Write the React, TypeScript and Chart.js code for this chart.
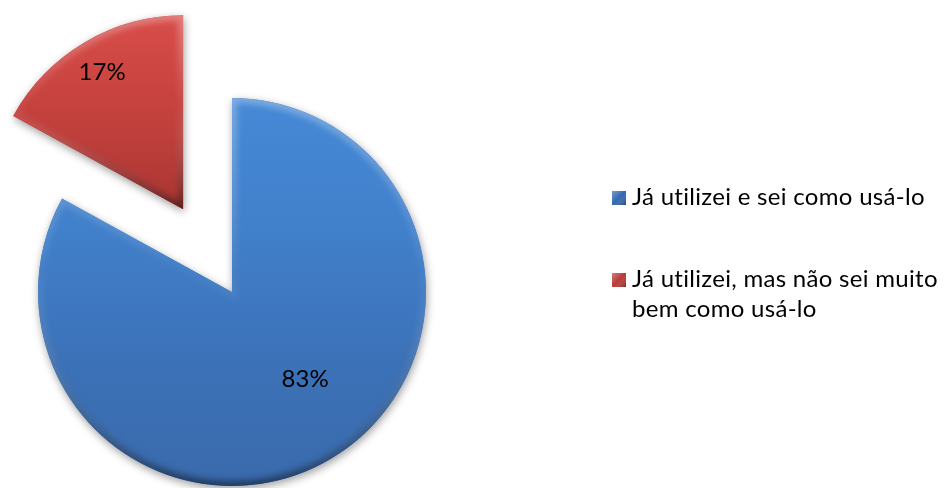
import React, { useEffect, useRef } from 'react';
import { Chart, ArcElement, PieController } from 'chart.js';

Chart.register(ArcElement, PieController);

// ---- data ----
const categories = ['Já utilizei e sei como usá-lo', 'Já utilizei, mas não sei muito bem como usá-lo'];
const legendLines = [['Já utilizei e sei como usá-lo'], ['Já utilizei, mas não sei muito', 'bem como usá-lo']];
const percentages = [83, 17];
const percentLabels = ['83%', '17%'];
const sliceColors = ['#3F7BC6', '#C94440'];

const FONT = '"Lato", "Open Sans", sans-serif';

function sliceBounds(x: number, y: number, r: number, a0: number, a1: number) {
  let minY = y, maxY = y;
  const steps = 90;
  for (let k = 0; k <= steps; k++) {
    const a = a0 + ((a1 - a0) * k) / steps;
    const py = y + Math.sin(a) * r;
    if (py < minY) minY = py;
    if (py > maxY) maxY = py;
  }
  return { minY, maxY };
}

const excelPiePlugin = {
  id: 'excelPie',
  beforeDatasetDraw(chart: any, args: any, opts: any) {
    const ctx: CanvasRenderingContext2D = chart.ctx;
    const meta = chart.getDatasetMeta(args.index);
    meta.data.forEach((arc: any, i: number) => {
      const { x, y, startAngle, endAngle, outerRadius } = arc.getProps(
        ['x', 'y', 'startAngle', 'endAngle', 'outerRadius'],
        true
      );
      const mid = (startAngle + endAngle) / 2;
      const off = (opts.explode && opts.explode[i]) || 0;
      const dx = Math.cos(mid) * off;
      const dy = Math.sin(mid) * off;
      // base fill with drop shadow
      ctx.save();
      ctx.translate(dx, dy);
      ctx.shadowColor = 'rgba(0,0,0,0.38)';
      ctx.shadowBlur = 8;
      ctx.shadowOffsetX = 1;
      ctx.shadowOffsetY = 3;
      arc.draw(ctx);
      ctx.restore();
      // shading + bevel
      const { minY, maxY } = sliceBounds(x + dx, y + dy, outerRadius, startAngle, endAngle);
      ctx.save();
      ctx.translate(dx, dy);
      ctx.beginPath();
      ctx.moveTo(x, y);
      ctx.arc(x, y, outerRadius, startAngle, endAngle);
      ctx.closePath();
      ctx.clip();
      const stops = opts.shade[i];
      const g = ctx.createLinearGradient(0, minY - dy, 0, maxY - dy);
      stops.forEach((c: string, k: number) => g.addColorStop(k / (stops.length - 1), c));
      ctx.fillStyle = g;
      ctx.fill();
      const b = ctx.createLinearGradient(0, minY - dy, 0, maxY - dy);
      b.addColorStop(0, 'rgba(255,255,255,0.30)');
      b.addColorStop(0.45, 'rgba(255,255,255,0.04)');
      b.addColorStop(1, 'rgba(0,0,0,0.45)');
      ctx.filter = 'blur(3px)';
      ctx.lineWidth = 10;
      ctx.strokeStyle = b;
      ctx.stroke();
      ctx.restore();
    });
    return false;
  },
  afterDatasetsDraw(chart: any, _args: any, opts: any) {
    const ctx: CanvasRenderingContext2D = chart.ctx;
    const meta = chart.getDatasetMeta(0);
    ctx.save();
    ctx.fillStyle = '#000';
    ctx.font = `${opts.labelSize}px ${FONT}`;
    ctx.textAlign = 'center';
    ctx.textBaseline = 'middle';
    meta.data.forEach((arc: any, i: number) => {
      const { x, y, startAngle, endAngle, outerRadius } = arc.getProps(
        ['x', 'y', 'startAngle', 'endAngle', 'outerRadius'],
        true
      );
      const mid = (startAngle + endAngle) / 2;
      const off = (opts.explode && opts.explode[i]) || 0;
      const cx = x + Math.cos(mid) * off;
      const cy = y + Math.sin(mid) * off;
      const p = opts.labelPlace[i];
      const a = mid + (p.shift * Math.PI) / 180;
      ctx.fillText(percentLabels[i], cx + Math.cos(a) * outerRadius * p.r, cy + Math.sin(a) * outerRadius * p.r);
    });
    ctx.restore();

    // legend
    const L = opts.legend;
    ctx.save();
    ctx.font = `${L.size}px ${FONT}`;
    (ctx as any).letterSpacing = L.spacing;
    ctx.textAlign = 'left';
    ctx.textBaseline = 'alphabetic';
    legendLines.forEach((lines, i) => {
      const bx = L.boxX;
      const by = L.boxY[i];
      const s = L.box;
      ctx.fillStyle = L.boxColors[i];
      ctx.fillRect(bx, by, s, s);
      const gl = ctx.createLinearGradient(bx, by, bx + s, by + s);
      gl.addColorStop(0, 'rgba(255,255,255,0.35)');
      gl.addColorStop(0.5, 'rgba(255,255,255,0)');
      gl.addColorStop(1, 'rgba(0,0,0,0.35)');
      ctx.fillStyle = gl;
      ctx.fillRect(bx, by, s, s);
      ctx.fillStyle = '#000';
      lines.forEach((t, j) => {
        ctx.fillText(t, L.textX, L.baseY[i] + j * L.lineH);
      });
    });
    ctx.restore();
  },
};

export default function App() {
  const ref = useRef<HTMLCanvasElement | null>(null);
  useEffect(() => {
    if (!ref.current) return;
    const chart = new Chart(ref.current, {
      type: 'pie',
      data: {
        labels: categories,
        datasets: [
          {
            data: percentages,
            backgroundColor: sliceColors,
            borderWidth: 0,
            clip: false as any,
          },
        ],
      },
      options: {
        responsive: false,
        animation: false,
        devicePixelRatio: 1,
        radius: 194,
        rotation: 0,
        layout: { padding: { left: 0, right: 480, top: 96, bottom: 0 } },
        events: [],
        plugins: {
          excelPie: {
            explode: [0, 96],
            shade: [
              ['#4689D6', '#4180CB', '#3C72B8', '#3A6AAC'],
              ['#D84D49', '#CB4541', '#BC3E3A', '#A93532'],
            ],
            labelSize: 24,
            labelPlace: [
              { r: 0.586, shift: -9.4 },
              { r: 0.82, shift: 0 },
            ],
            legend: {
              size: 24,
              spacing: '0.3px',
              box: 14,
              boxX: 612,
              boxY: [191, 273],
              boxColors: ['#3468AE', '#B93A37'],
              textX: 632,
              baseY: [205, 287],
              lineH: 30,
            },
          },
        } as any,
      },
      plugins: [excelPiePlugin as any],
    });
    return () => chart.destroy();
  }, []);
  return (
    <div style={{ position: 'fixed', left: 0, top: 0, width: 944, height: 488, background: '#fff' }}>
      <canvas ref={ref} width={944} height={488} style={{ width: 944, height: 488, display: 'block' }} />
    </div>
  );
}
